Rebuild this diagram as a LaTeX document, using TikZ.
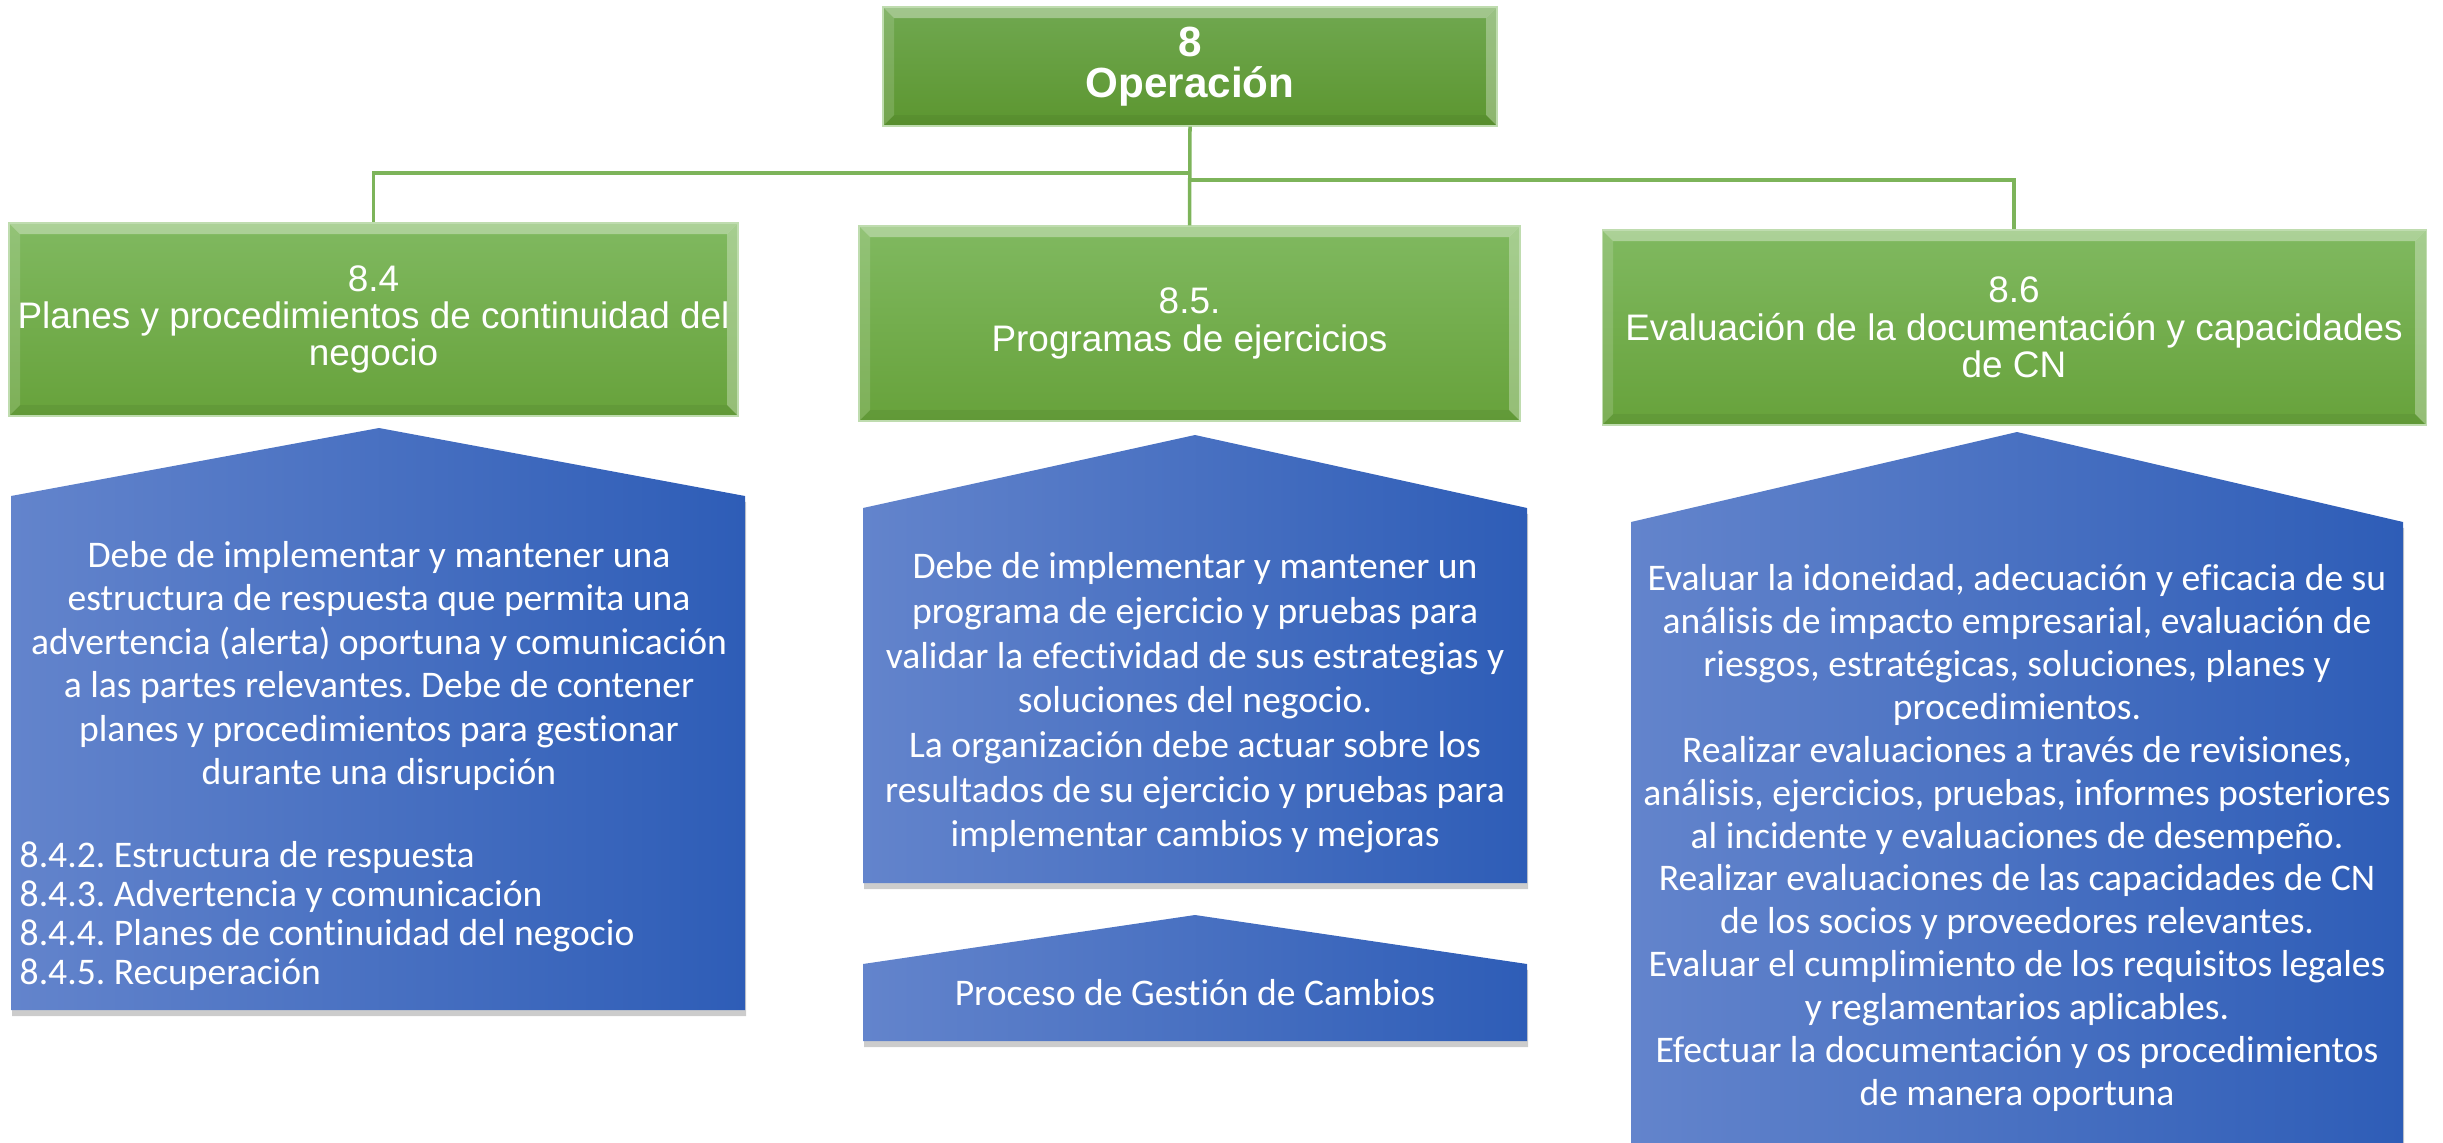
\documentclass[tikz,border=0pt]{standalone}
\usepackage{fontspec}
\setmainfont{Carlito}[Ligatures=NoCommon]
\newfontfamily\arialfont{Liberation Sans}
\usetikzlibrary{shadows}
\frenchspacing
\definecolor{greenhi}{HTML}{80B960}
\definecolor{greenlo}{HTML}{67A23B}
\definecolor{ophi}{HTML}{70A850}
\definecolor{oplo}{HTML}{5C9630}
\definecolor{bluelight}{HTML}{6384CC}
\definecolor{bluemid}{HTML}{4673C9}
\definecolor{bluedark}{HTML}{2E5DB7}
\definecolor{linkgreen}{HTML}{7DB45A}

\begin{document}
\begin{tikzpicture}[x=0.1mm,y=-0.1mm,
	greenbox/.style={draw=greenhi!50!white,line width=0.3pt,top color=greenhi,bottom color=greenlo,text=white,align=center,inner sep=0pt,
		font=\arialfont\fontsize{10.5}{10.6}\selectfont,
		path picture={
			\fill[white,opacity=.35] (path picture bounding box.north west) -- (path picture bounding box.north east)
			-- ([shift={(-1.1mm,-1.1mm)}]path picture bounding box.north east) -- ([shift={(1.1mm,-1.1mm)}]path picture bounding box.north west) -- cycle;
			\fill[white,opacity=.15] (path picture bounding box.north west) -- ([shift={(1.1mm,-1.1mm)}]path picture bounding box.north west)
			-- ([shift={(1.1mm,1.1mm)}]path picture bounding box.south west) -- (path picture bounding box.south west) -- cycle;
			\fill[white,opacity=.3] (path picture bounding box.north east) -- ([shift={(-1.1mm,-1.1mm)}]path picture bounding box.north east)
			-- ([shift={(-1.1mm,1.1mm)}]path picture bounding box.south east) -- (path picture bounding box.south east) -- cycle;
			\fill[black,opacity=.05] (path picture bounding box.south west) -- ([shift={(1.1mm,1.1mm)}]path picture bounding box.south west)
			-- ([shift={(-1.1mm,1.1mm)}]path picture bounding box.south east) -- (path picture bounding box.south east) -- cycle;
		}},
	bluebox/.style={left color=bluelight,middle color=bluemid,right color=bluedark,
		drop shadow={shadow xshift=0.1mm,shadow yshift=-0.6mm,opacity=.4}},
	bluetext/.style={text=white,align=center,inner sep=0pt,font=\fontsize{10.7}{12.4}\selectfont},
	link/.style={draw=linkgreen,line width=1pt}]
	\clip (0,0) rectangle (2443,1142);
	
	%green boxes
	\node[greenbox,top color=ophi,bottom color=oplo,minimum width=61.4mm,minimum height=11.9mm,
		font=\arialfont\bfseries\fontsize{12}{11.5}\selectfont] (op) at (1190,66.5) {8\\Operación};
	\node[greenbox,minimum width=72.9mm,minimum height=19.3mm] (b84) at (373.5,319.5) {8.4\\Planes y procedimientos de continuidad del\\negocio};
	\node[greenbox,minimum width=66.1mm,minimum height=19.5mm] (b85) at (1189.5,323.5) {8.5.\\Programas de ejercicios};
	\node[greenbox,minimum width=82.4mm,minimum height=19.5mm] (b86) at (2014,327.5) {8.6\\Evaluación de la documentación y capacidades\\de CN};
	
	%links
	\coordinate (busL) at (1190,173);
	\coordinate (busR) at (1190,180);
	\draw[link] (op.south) -- (b85.north);
	\draw[link] (busL) -| (b84.north);
	\draw[link] (busR) -| (b86.north);
	
	%blue boxes
	\path[bluebox] (11,1010) -- (11,496) -- (379,428) -- (745,496) -- (745,1010) -- cycle;
	\path[bluebox] (863,883) -- (863,508) -- (1195,435) -- (1527,508) -- (1527,883) -- cycle;
	\path[bluebox] (863,1041) -- (863,964) -- (1195,915) -- (1527,964) -- (1527,1041) -- cycle;
	\path[bluebox] (1631,1200) -- (1631,522) -- (2017,432) -- (2403,522) -- (2403,1200) -- cycle;
	
	\node[bluetext] (t84) at (379,666) {Debe de implementar y mantener una\\estructura de respuesta que permita una\\advertencia (alerta) oportuna y comunicación\\a las partes relevantes. Debe de contener\\planes y procedimientos para gestionar\\durante una disrupción};
	\node[bluetext,anchor=west,align=left,font=\fontsize{10.7}{11.1}\selectfont] (l84) at (19,916) {8.4.2. Estructura de respuesta\\8.4.3. Advertencia y comunicación\\8.4.4. Planes de continuidad del negocio\\8.4.5. Recuperación};
	\node[bluetext,font=\fontsize{10.7}{12.7}\selectfont] (t85) at (1195,703) {Debe de implementar y mantener un\\programa de ejercicio y pruebas para\\validar la efectividad de sus estrategias y\\soluciones del negocio.\\La organización debe actuar sobre los\\resultados de su ejercicio y pruebas para\\implementar cambios y mejoras};
	\node[bluetext] (cambios) at (1195,993) {Proceso de Gestión de Cambios};
	\node[bluetext,font=\fontsize{10.7}{12.2}\selectfont] (t86) at (2017,838) {Evaluar la idoneidad, adecuación y eficacia de su\\análisis de impacto empresarial, evaluación de\\riesgos, estratégicas, soluciones, planes y\\procedimientos.\\Realizar evaluaciones a través de revisiones,\\análisis, ejercicios, pruebas, informes posteriores\\al incidente y evaluaciones de desempeño.\\Realizar evaluaciones de las capacidades de CN\\de los socios y proveedores relevantes.\\Evaluar el cumplimiento de los requisitos legales\\y reglamentarios aplicables.\\Efectuar la documentación y os procedimientos\\de manera oportuna};
\end{tikzpicture}
\end{document}
